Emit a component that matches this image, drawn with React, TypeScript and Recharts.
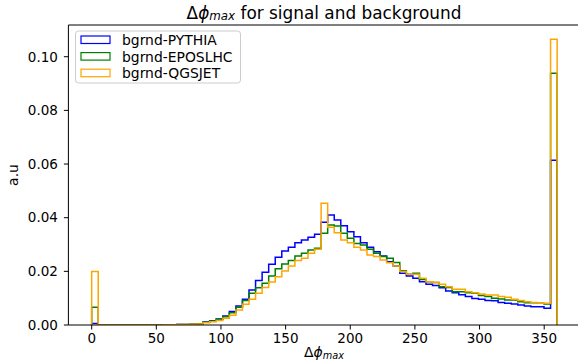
import React from 'react';
import { LineChart, Line, XAxis, YAxis, ReferenceLine } from 'recharts';

// histogram binning: 71 bins over [0, 360]
const PHI_MIN = 0;
const PHI_MAX = 360;
const N_BINS = 71;

const X_TICKS = [0, 50, 100, 150, 200, 250, 300, 350];
const Y_TICKS = [0, 0.02, 0.04, 0.06, 0.08, 0.1];

// bin contents (fraction of events)
const pythia = [
  0.0006, 0, 0, 0, 0, 0, 0, 0, 0, 0,
  0, 0.00005, 0.0001, 0.0002, 0.0002, 0.0003, 0.0005, 0.0011, 0.0016, 0.0022,
  0.0034, 0.005, 0.0071, 0.0096, 0.013, 0.0166, 0.0197, 0.0226, 0.0253, 0.0276,
  0.029, 0.0307, 0.0317, 0.0327, 0.0338, 0.0383, 0.041, 0.0391, 0.037, 0.0348,
  0.0329, 0.0307, 0.029, 0.0273, 0.0257, 0.0236, 0.022, 0.0193, 0.0183, 0.0174,
  0.0161, 0.0152, 0.0147, 0.0139, 0.0127, 0.012, 0.0113, 0.0106, 0.0099, 0.0096,
  0.0091, 0.009, 0.0084, 0.0081, 0.0078, 0.0075, 0.0071, 0.0068, 0.0068, 0.0062,
  0.0614,
];
const eposlhc = [
  0.0066, 0, 0, 0, 0, 0, 0, 0, 0, 0,
  0, 0.00005, 0.0001, 0.0002, 0.0002, 0.0003, 0.0005, 0.001, 0.0015, 0.0021,
  0.0031, 0.0046, 0.0066, 0.0091, 0.0118, 0.0139, 0.0156, 0.0183, 0.021, 0.0227,
  0.024, 0.0257, 0.0267, 0.028, 0.0286, 0.0342, 0.0373, 0.0369, 0.0342, 0.0323,
  0.0304, 0.0298, 0.0282, 0.0267, 0.0255, 0.0249, 0.0233, 0.0202, 0.0189, 0.0193,
  0.017, 0.0161, 0.0158, 0.0143, 0.014, 0.0124, 0.0124, 0.012, 0.0118, 0.011,
  0.0106, 0.01, 0.0097, 0.0093, 0.0093, 0.0087, 0.0083, 0.0083, 0.0081, 0.0078,
  0.0938,
];
const qgsjet = [
  0.0199, 0, 0, 0, 0, 0, 0, 0, 0, 0,
  0, 0.00005, 0.0001, 0.0002, 0.0002, 0.0003, 0.0004, 0.0008, 0.0012, 0.0017,
  0.0025, 0.0036, 0.0056, 0.0077, 0.0096, 0.0118, 0.014, 0.016, 0.018, 0.0201,
  0.022, 0.024, 0.0249, 0.0267, 0.0282, 0.0454, 0.0364, 0.0344, 0.0317, 0.0307,
  0.029, 0.028, 0.0261, 0.0255, 0.0242, 0.0232, 0.022, 0.0199, 0.0189, 0.0189,
  0.0174, 0.0161, 0.0158, 0.0152, 0.0143, 0.0133, 0.0133, 0.0124, 0.012, 0.0116,
  0.0112, 0.0112, 0.0106, 0.0103, 0.0096, 0.0091, 0.0087, 0.0084, 0.0081, 0.0081,
  0.1065,
];

const series = [
  { name: 'bgrnd-PYTHIA', color: '#0000ff', values: pythia },
  { name: 'bgrnd-EPOSLHC', color: '#008000', values: eposlhc },
  { name: 'bgrnd-QGSJET', color: '#ffa500', values: qgsjet },
];

const Y_TOP = 0.1065 * 1.05;
const FONT = '"DejaVu Sans", sans-serif';

// step outline like histtype='step'
function stepPoints(values: number[]) {
  const w = (PHI_MAX - PHI_MIN) / N_BINS;
  const pts = [{ x: PHI_MIN, y: 0 }];
  values.forEach((v, i) => pts.push({ x: PHI_MIN + i * w, y: v }));
  pts.push({ x: PHI_MAX, y: 0 });
  return pts;
}

function PhiMax({ trailing = false }: { trailing?: boolean }) {
  return (
    <>
      <tspan>Δ</tspan>
      <tspan fontStyle="italic">ϕ</tspan>
      <tspan fontStyle="italic" fontSize="0.7em" dy="0.3em">max</tspan>
      <tspan dy="-0.21em">{trailing ? ' ' : ''}</tspan>
    </>
  );
}

export default function App() {
  const tick = { fill: '#000', fontSize: 13.5, fontFamily: FONT };
  return (
    <div style={{ position: 'fixed', left: 0, top: 0, width: 578, height: 363, overflow: 'hidden', background: '#fff' }}>
      <LineChart width={590} height={363} margin={{ top: 25, right: 9.6, bottom: 0, left: 0 }}>
        <XAxis
          type="number"
          dataKey="x"
          domain={[-18, 378]}
          ticks={X_TICKS}
          allowDataOverflow
          height={38}
          stroke="#000"
          tickSize={4.5}
          tickMargin={4}
          tick={tick}
        />
        <YAxis
          type="number"
          domain={[0, Y_TOP]}
          ticks={Y_TICKS}
          allowDataOverflow
          width={68.4}
          stroke="#000"
          tickSize={4.5}
          tickMargin={6}
          tick={tick}
          tickFormatter={(v: number) => v.toFixed(2)}
        />
        <ReferenceLine y={Y_TOP} stroke="#000" strokeWidth={1} />
        {series.map((s) => (
          <Line
            key={s.name}
            data={stepPoints(s.values)}
            dataKey="y"
            type="stepAfter"
            stroke={s.color}
            strokeWidth={1.5}
            dot={false}
            activeDot={false}
            isAnimationActive={false}
          />
        ))}
      </LineChart>
      <svg width={578} height={363} style={{ position: 'absolute', left: 0, top: 0, pointerEvents: 'none' }} fontFamily={FONT}>
        <text x={324} y={12.5} fontSize={16.9} textAnchor="middle" dominantBaseline="central" fill="#000">
          <PhiMax trailing />for signal and background
        </text>
        <text x={324} y={352} fontSize={13.9} textAnchor="middle" dominantBaseline="central" fill="#000">
          <PhiMax />
        </text>
        <text x={13} y={175} fontSize={13.9} textAnchor="middle" dominantBaseline="central" fill="#000" transform="rotate(-90 13 175)">
          a.u
        </text>
        <rect x={75.5} y={31} width={165} height={52} rx={3} fill="#fff" fillOpacity={0.8} stroke="#cccccc" />
        {series.map((s, i) => (
          <g key={s.name}>
            <rect x={81} y={36 + i * 16.6} width={29} height={7.5} fill="none" stroke={s.color} strokeWidth={1.2} />
            <text x={122} y={40 + i * 16.6} fontSize={13.9} dominantBaseline="central" fill="#000">
              {s.name}
            </text>
          </g>
        ))}
      </svg>
    </div>
  );
}
